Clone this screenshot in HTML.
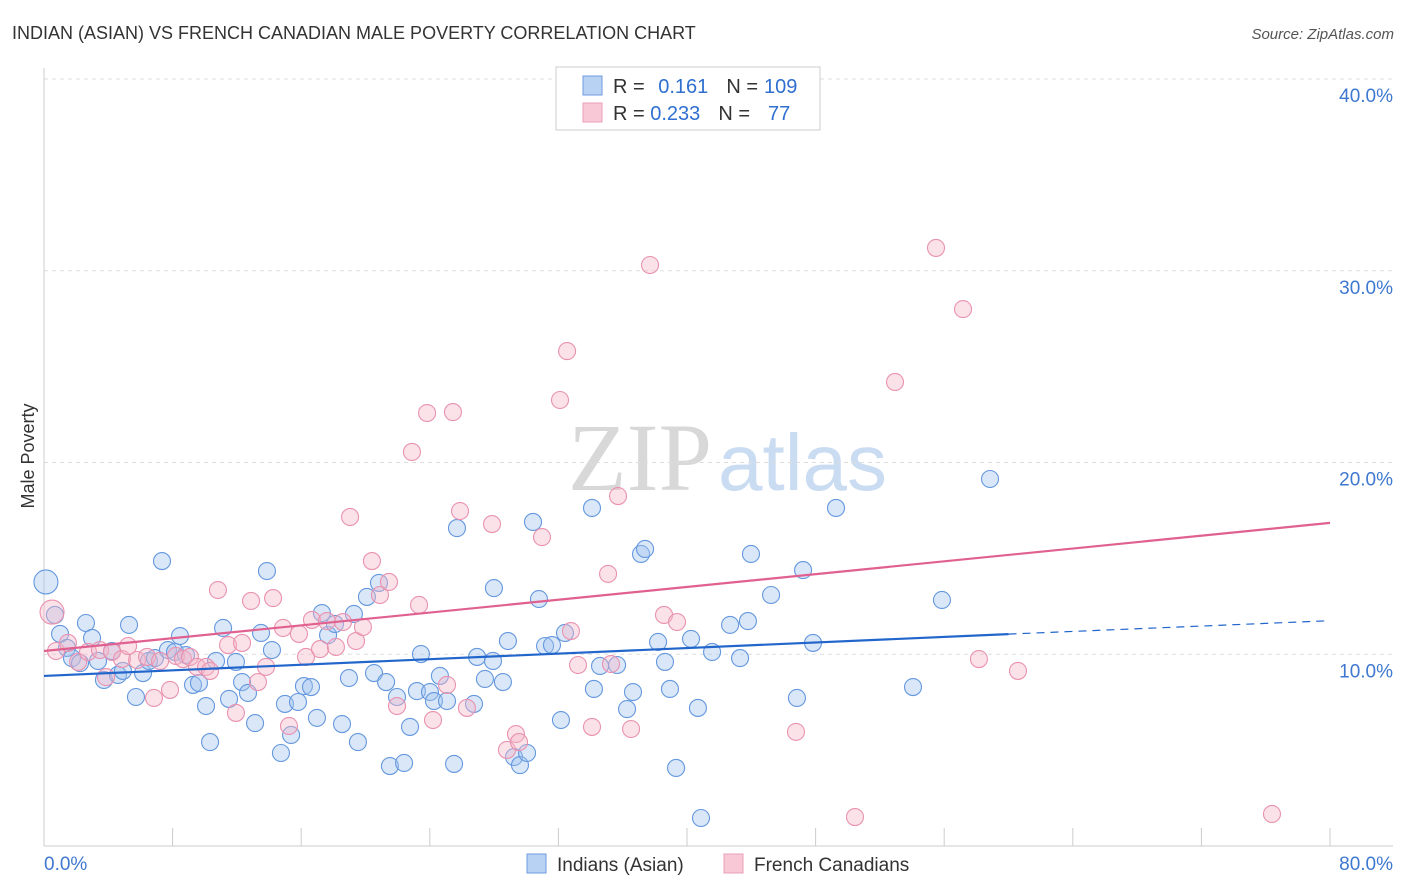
<!DOCTYPE html>
<html><head><meta charset="utf-8">
<style>
body{margin:0;background:#fff;font-family:"Liberation Sans",sans-serif;}
#wrap{position:relative;width:1406px;height:892px;overflow:hidden;}
</style></head>
<body>
<div id="wrap">
<svg id="svg" width="1406" height="892" xmlns="http://www.w3.org/2000/svg">
<text x="12" y="39" font-size="18" fill="#333">INDIAN (ASIAN) VS FRENCH CANADIAN MALE POVERTY CORRELATION CHART</text>
<text x="1394" y="39" font-size="15" fill="#555" font-style="italic" text-anchor="end">Source: ZipAtlas.com</text>
<text x="712" y="490" font-size="96" fill="#d8d8d8" text-anchor="end" font-family="Liberation Serif">ZIP</text>
<text x="718" y="490" font-size="80" fill="#c9dcf2">atlas</text>
<g id="grid"></g>
<g id="marks"></g>
<g id="trend"></g>
<text transform="translate(34,456) rotate(-90)" font-size="18" fill="#333" text-anchor="middle">Male Poverty</text>
<g>
<rect x="556" y="67" width="264" height="63" fill="#fff" stroke="#ccc"/>
<rect x="583" y="76" width="19" height="19" fill="#b8d2f4" stroke="#6f9be0"/>
<rect x="583" y="103" width="19" height="19" fill="#f8c8d6" stroke="#eaa0b8"/>
<text x="613" y="93" font-size="20" fill="#333">R = <tspan fill="#2f6fd0" dx="8">0.161</tspan><tspan dx="18" fill="#333">N =</tspan><tspan fill="#2f6fd0" dx="6">109</tspan></text>
<text x="613" y="120" font-size="20" fill="#333">R = <tspan fill="#2f6fd0">0.233</tspan><tspan dx="18" fill="#333">N =</tspan><tspan fill="#2f6fd0" dx="18">77</tspan></text>
</g>
<g>
<rect x="527" y="854" width="19" height="19" fill="#b8d2f4" stroke="#6f9be0"/>
<text x="557" y="871" font-size="19" fill="#333">Indians (Asian)</text>
<rect x="724" y="854" width="19" height="19" fill="#f8c8d6" stroke="#eaa0b8"/>
<text x="754" y="871" font-size="19" fill="#333">French Canadians</text>
</g>
</svg>
</div>
<script>
const xTickVals=[0,8,16,24,32,40,48,56,64,72,80];
const yTickVals=[10,20,30,40];
const yTickLabels=["10.0%","20.0%","30.0%","40.0%"];
const xEndLabels=["0.0%","80.0%"];
const blueX=[0.12,0.68,1.0,1.43,1.74,2.24,2.61,2.99,3.36,3.73,4.23,4.6,4.91,5.29,5.72,6.16,6.53,6.9,7.34,7.71,8.15,8.46,8.83,9.27,9.64,10.08,10.33,10.7,11.14,11.51,11.94,12.32,12.69,13.13,13.5,13.87,14.18,14.74,14.99,15.37,15.8,16.17,16.61,16.98,17.29,17.67,18.1,18.54,18.97,19.28,19.53,20.09,20.53,20.84,21.28,21.52,21.96,22.4,22.77,23.2,23.45,24.01,24.26,24.63,25.07,25.51,25.69,26.75,26.94,27.43,27.93,27.99,28.55,28.86,29.24,29.61,30.05,30.42,30.79,31.17,31.6,32.16,32.41,34.09,34.21,34.59,35.65,36.27,36.64,37.14,37.39,38.2,38.63,38.94,39.32,40.25,40.68,40.87,41.56,42.68,43.3,43.79,43.98,45.23,46.84,47.22,47.84,49.27,54.06,55.86,58.85];
const blueY=[13.77,12.05,11.06,10.33,9.8,9.54,11.63,10.85,9.65,8.66,10.17,8.92,9.13,11.53,7.77,9.02,9.65,9.8,14.86,10.22,10.12,10.95,9.96,8.4,8.5,7.3,5.42,9.65,11.37,7.67,9.6,8.55,7.98,6.41,11.11,14.34,10.22,4.85,7.41,5.79,7.51,8.34,8.29,6.68,12.15,11.0,11.58,6.36,8.76,12.1,5.42,12.99,9.02,13.72,8.55,4.17,7.77,4.33,6.21,8.08,10.01,8.03,7.56,8.87,7.56,4.28,16.58,7.41,9.86,8.71,9.65,13.45,8.55,10.69,4.64,4.22,4.85,16.9,12.88,10.43,10.48,6.57,11.11,17.63,8.19,9.39,9.44,7.14,8.03,15.23,15.49,10.64,9.6,8.19,4.07,10.8,7.2,1.46,10.12,11.53,9.8,11.73,15.23,13.09,7.72,14.39,10.59,17.63,8.29,12.83,19.14];
const pinkX=[0.5,0.75,1.49,2.12,2.74,3.48,3.86,4.23,4.85,5.23,5.79,6.41,6.84,7.22,7.84,8.21,8.65,9.08,9.52,10.08,10.33,10.82,11.45,11.94,12.32,12.88,13.31,13.81,14.25,14.87,15.24,15.86,16.3,16.67,17.17,17.6,18.16,18.6,19.04,19.41,19.84,20.4,20.9,21.46,21.96,23.33,22.89,23.83,24.2,25.07,25.44,25.88,26.31,27.87,28.8,29.36,29.55,30.98,32.1,32.54,32.78,33.22,34.09,35.09,35.27,35.71,36.52,37.7,38.57,39.38,46.78,50.45,52.94,55.49,57.17,58.16,60.59,76.39];
const pinkY=[12.2,10.17,10.59,9.6,10.12,10.22,8.81,10.12,9.75,10.43,9.7,9.86,7.72,9.65,8.14,9.91,9.75,9.86,9.34,9.34,9.13,13.35,10.48,6.94,10.59,12.78,8.55,9.34,12.93,11.37,6.26,11.06,9.86,11.79,10.27,11.73,10.38,11.68,17.16,10.69,11.42,14.86,13.09,13.77,7.3,12.57,20.55,22.58,6.57,8.4,22.63,17.47,7.2,16.79,5.01,5.84,5.42,16.11,23.26,25.81,11.21,9.44,6.21,14.19,9.49,18.25,6.1,30.3,12.05,11.68,5.95,1.51,24.2,31.19,28.0,9.75,9.13,1.67];
const blueTrend=[0,8.87,60,11.05,80,11.75];
const pinkTrend=[0,10.17,80,16.85];

const X=v=>44+v*16.075, Y=v=>846-v*19.175;
const NS="http://www.w3.org/2000/svg";
function mk(tag,attrs,parent){const e=document.createElementNS(NS,tag);for(const k in attrs)e.setAttribute(k,attrs[k]);parent.appendChild(e);return e;}
const grid=document.getElementById('grid'),marks=document.getElementById('marks'),trend=document.getElementById('trend');
yTickVals.forEach((v,i)=>{
 const l=mk('line',{x1:44,x2:1393,y1:Y(v),y2:Y(v),stroke:'#ddd','stroke-dasharray':'4,4'},grid);
 
 
 const t=mk('text',{x:1393,y:Y(v)+23,'font-size':19,fill:'#3f78d0','text-anchor':'end'},grid);
 t.textContent=yTickLabels[i];
 
 
});
const ax=mk('line',{x1:44,x2:1393,y1:846,y2:846,stroke:'#ccc'},grid);


const ay=mk('line',{x1:44,x2:44,y1:68,y2:846,stroke:'#ccc'},grid);


xTickVals.forEach(v=>{
 const l=mk('line',{x1:X(v),x2:X(v),y1:828,y2:846,stroke:'#ccc'},grid);
 
 
});
[[0,'start',44],[80,'end',1393]].forEach((a,i)=>{
 const t=mk('text',{x:a[2],y:870,'font-size':19,fill:'#3f78d0','text-anchor':a[1]},grid);
 t.textContent=xEndLabels[i];
 
 
});
function pts(xs,ys,fill,stroke,name){
 xs.forEach((x,i)=>{
  const r=i===0?12:8.5;
  const c=mk('circle',{cx:X(x),cy:Y(ys[i]),r:r,fill:fill,'fill-opacity':0.4,stroke:stroke,'stroke-width':1.1},marks);
  
  
 });
}
pts(blueX,blueY,'#9fc2ee','#6598de','point-indians-asian');
pts(pinkX,pinkY,'#f6b6c8','#e992b0','point-french-canadians');
let l=mk('line',{x1:X(blueTrend[0]),y1:Y(blueTrend[1]),x2:X(blueTrend[2]),y2:Y(blueTrend[3]),stroke:'#2266cc','stroke-width':2.2},trend);


l=mk('line',{x1:X(blueTrend[2]),y1:Y(blueTrend[3]),x2:X(blueTrend[4]),y2:Y(blueTrend[5]),stroke:'#2266cc','stroke-width':1.2,'stroke-dasharray':'8,6'},trend);


l=mk('line',{x1:X(pinkTrend[0]),y1:Y(pinkTrend[1]),x2:X(pinkTrend[2]),y2:Y(pinkTrend[3]),stroke:'#e0608f','stroke-width':2.2},trend);


</script>
</body></html>
